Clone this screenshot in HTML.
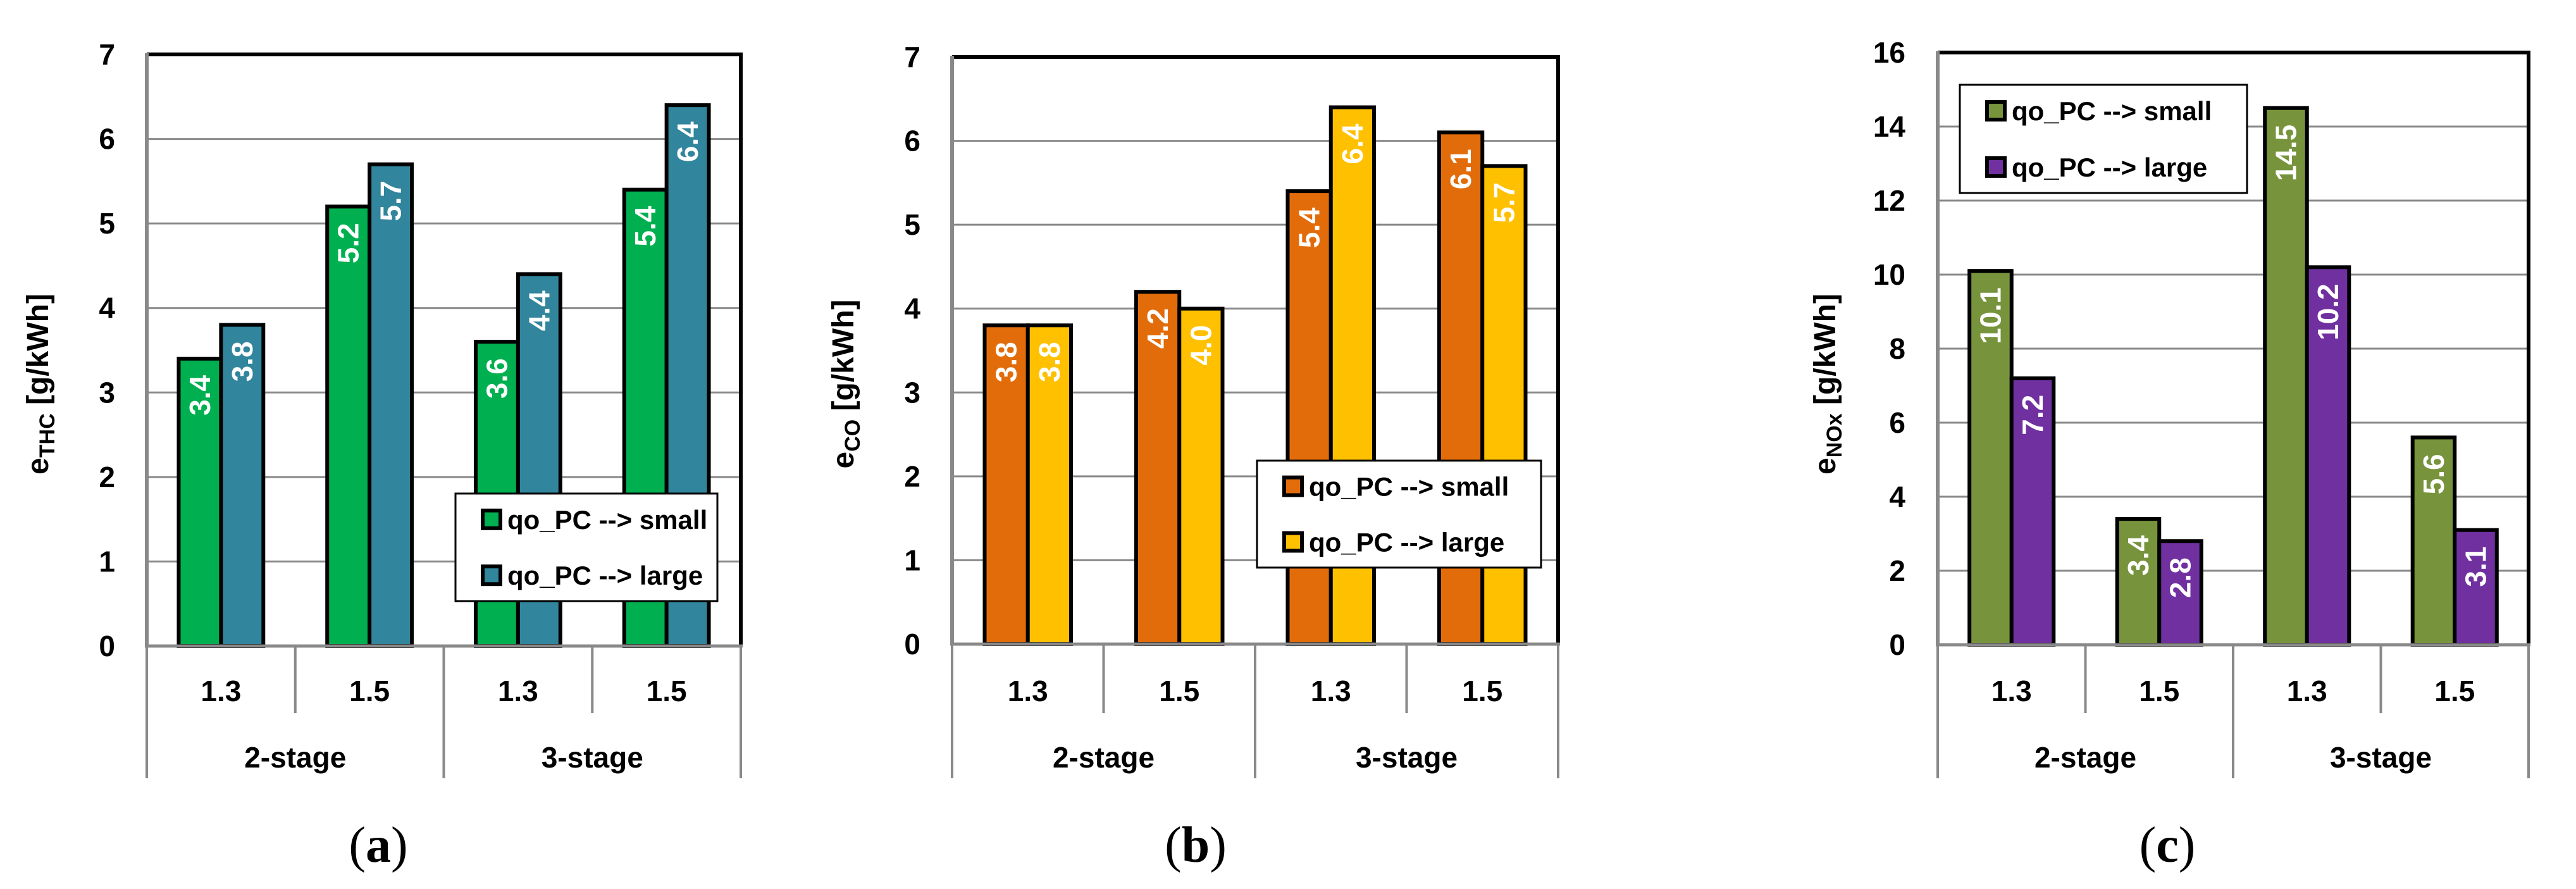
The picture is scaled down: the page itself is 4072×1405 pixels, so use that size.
<!DOCTYPE html>
<html><head><meta charset="utf-8"><style>
html,body{margin:0;padding:0;background:#fff;}
svg{display:block;font-family:"Liberation Sans",sans-serif;}
</style></head><body>
<svg id="fig" width="4072" height="1405" viewBox="0 0 4072 1405" xmlns="http://www.w3.org/2000/svg"></svg>
<script>
const categories = ["1.3","1.5","1.3","1.5"];
const stages = ["2-stage","3-stage"];
const thcSmall = [3.4, 5.2, 3.6, 5.4];
const thcLarge = [3.8, 5.7, 4.4, 6.4];
const coSmall = [3.8, 4.2, 5.4, 6.1];
const coLarge = [3.8, 4.0, 6.4, 5.7];
const noxSmall = [10.1, 3.4, 14.5, 5.6];
const noxLarge = [7.2, 2.8, 10.2, 3.1];
const ticksA = [0,1,2,3,4,5,6,7];
const ticksB = [0,1,2,3,4,5,6,7];
const ticksC = [0,2,4,6,8,10,12,14,16];
const legendLabels = ["qo_PC --> small","qo_PC --> large"];

const NS = "http://www.w3.org/2000/svg";
const svg = document.getElementById("fig");
function mk(tag, attrs, parent){
  const e = document.createElementNS(NS, tag);
  for (const k in attrs) e.setAttribute(k, attrs[k]);
  (parent||svg).appendChild(e);
  return e;
}

const charts = [
  {id:"a", left:232, right:1171, top:86, zero:1021, max:7, ticks:ticksA, small:thcSmall, large:thcLarge,
   c1:"#00b050", c2:"#31859c", sub:"THC", titleX:60, tickX:182, labX:598,
   leg:{x:720,y:780,w:414,h:170}},
  {id:"b", left:1505, right:2463, top:90, zero:1018, max:7, ticks:ticksB, small:coSmall, large:coLarge,
   c1:"#e36c0a", c2:"#ffc000", sub:"CO", titleX:1333, tickX:1455, labX:1890,
   leg:{x:1987,y:728,w:449,h:169}},
  {id:"c", left:3063, right:3997, top:83, zero:1019, max:16, ticks:ticksC, small:noxSmall, large:noxLarge,
   c1:"#77933c", c2:"#7030a0", sub:"NOx", titleX:2885, tickX:3012, labX:3426,
   leg:{x:3098,y:134,w:454,h:171}}
];

charts.forEach(ch => {
  const g = mk("g", {});
  
  
  const yScale = v => ch.zero - (v / ch.max) * (ch.zero - ch.top);
  const gw = (ch.right - ch.left) / categories.length;
  const xGroup = i => ch.left + i * gw;

  ch.ticks.forEach(t => {
    const y = yScale(t);
    if (t > 0 && t < ch.max) {
      const l = mk("line", {x1:ch.left, x2:ch.right, y1:y, y2:y, stroke:"#898989", "stroke-width":3}, g);
      
      
    }
    const tx = mk("text", {x:ch.tickX, y:y+16, "font-size":46, "font-weight":"bold", "text-anchor":"end", fill:"#000"}, g);
    tx.textContent = t;
    
    
  });

  const series = [ch.small, ch.large];
  const colors = [ch.c1, ch.c2];
  categories.forEach((c, i) => {
    series.forEach((s, k) => {
      const bw = gw * 0.285;
      const x = xGroup(i) + gw * 0.215 + k * bw;
      const y = yScale(s[i]);
      const r = mk("rect", {x:x, y:y, width:bw, height:ch.zero - y, fill:colors[k], stroke:"#000", "stroke-width":6}, g);
      
      
      const cx = x + bw/2 + 16, ty = y + 26;
      const t = mk("text", {x:cx, y:ty, "font-size":46, "font-weight":"bold", fill:"#fff", "text-anchor":"end",
        transform:"rotate(-90 " + cx + " " + ty + ")"}, g);
      t.textContent = s[i].toFixed(1);
      
      
    });
  });

  const f1 = mk("path", {d:"M"+ch.left+" "+ch.top+" H"+ch.right+" V"+ch.zero, fill:"none", stroke:"#000", "stroke-width":6}, g);
  
  
  const ax = mk("line", {x1:ch.left, x2:ch.left, y1:ch.top-2, y2:ch.zero, stroke:"#898989", "stroke-width":6}, g);
  
  
  const bx = mk("line", {x1:ch.left-3, x2:ch.right+3, y1:ch.zero, y2:ch.zero, stroke:"#898989", "stroke-width":5}, g);
  
  

  for (let i = 0; i <= categories.length; i++) {
    const x = xGroup(i);
    const bottom = (i % 2 === 0) ? 1230 : 1127;
    const d = mk("line", {x1:x, x2:x, y1:ch.zero, y2:bottom, stroke:"#898989", "stroke-width":4}, g);
    
    
  }
  categories.forEach((c, i) => {
    const t = mk("text", {x:xGroup(i)+gw/2, y:1108, "font-size":46, "font-weight":"bold", "text-anchor":"middle"}, g);
    t.textContent = c;
    
    
  });
  stages.forEach((s, j) => {
    const t = mk("text", {x:xGroup(j*2)+gw, y:1213, "font-size":46, "font-weight":"bold", "text-anchor":"middle"}, g);
    t.textContent = s;
    
    
  });

  const ty = 607;
  const title = mk("text", {x:ch.titleX+16, y:ty, "font-size":48, "font-weight":"bold", "text-anchor":"middle",
    transform:"rotate(-90 " + (ch.titleX+16) + " " + ty + ")"}, g);
  
  
  const t1 = mk("tspan", {}, title); t1.textContent = "e";
  const t2 = mk("tspan", {"font-size":34, dy:10}, title); t2.textContent = ch.sub;
  const t3 = mk("tspan", {dy:-10}, title); t3.textContent = " [g/kWh]";

  const L = ch.leg;
  const lg = mk("g", {}, g);
  
  
  mk("rect", {x:L.x, y:L.y, width:L.w, height:L.h, fill:"#fff", stroke:"#000", "stroke-width":3}, lg);
  legendLabels.forEach((lab, k) => {
    const cy = L.y + L.h*0.24 + k * L.h*0.52;
    const e = mk("g", {}, lg);
    
    
    mk("rect", {x:L.x+43, y:cy-14, width:28, height:28, fill:colors[k], stroke:"#000", "stroke-width":6}, e);
    const t = mk("text", {x:L.x+82, y:cy+15, "font-size":42, "font-weight":"bold"}, e);
    t.textContent = lab;
  });

  const pl = mk("text", {x:ch.labX, y:1362, "font-size":80, "font-family":"Liberation Serif, serif", "text-anchor":"middle"}, g);
  
  
  const p1 = mk("tspan", {}, pl); p1.textContent = "(";
  const p2 = mk("tspan", {"font-weight":"bold"}, pl); p2.textContent = ch.id;
  const p3 = mk("tspan", {}, pl); p3.textContent = ")";
});
</script>
</body></html>
